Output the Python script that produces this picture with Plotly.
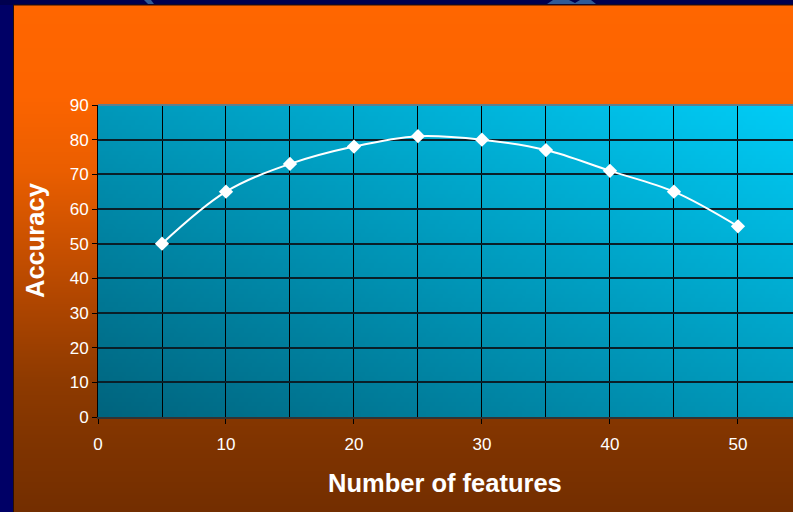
import base64
import struct
import zlib

import plotly.graph_objects as go

# Accuracy measured against the number of selected features
num_features = [5, 10, 15, 20, 25, 30, 35, 40, 45, 50]
accuracy = [50, 65, 73, 78, 81, 80, 77, 71, 65, 55]

x_ticks = [0, 10, 20, 30, 40, 50]
y_ticks = [0, 10, 20, 30, 40, 50, 60, 70, 80, 90]

x_title = "Number of features"
y_title = "Accuracy"

W, H = 793, 512
M_L, M_R, M_T, M_B = 98, 0, 105, 95
PLOT_W = W - M_L - M_R
PLOT_H = H - M_T - M_B
X_MAX = 54.3


def png_uri(width, height, pixel):
    """Encode an RGB image built from pixel(col, row) as a PNG data URI."""
    raw = bytearray()
    for r in range(height):
        raw.append(0)
        for c in range(width):
            raw.extend(pixel(c, r))

    def chunk(tag, data):
        body = tag + data
        return struct.pack(">I", len(data)) + body + struct.pack(">I", zlib.crc32(body) & 0xFFFFFFFF)

    png = b"\x89PNG\r\n\x1a\n"
    png += chunk(b"IHDR", struct.pack(">IIBBBBB", width, height, 8, 2, 0, 0, 0))
    png += chunk(b"IDAT", zlib.compress(bytes(raw), 9))
    png += chunk(b"IEND", b"")
    return "data:image/png;base64," + base64.b64encode(png).decode()


def lerp_stops(stops, t):
    for (t0, c0), (t1, c1) in zip(stops, stops[1:]):
        if t <= t1:
            f = 0 if t1 == t0 else (t - t0) / (t1 - t0)
            return bytes(int(round(a + (b - a) * f)) for a, b in zip(c0, c1))
    return bytes(stops[-1][1])


# orange-to-brown slide background (vertical)
bg_stops = [(0, (255, 102, 0)), (95, (252, 100, 0)), (170, (234, 94, 0)),
            (300, (176, 70, 0)), (380, (142, 58, 0)), (440, (128, 52, 0)),
            (512, (115, 46, 0))]
bg_uri = png_uri(1, H, lambda c, r: lerp_stops(bg_stops, r))

# teal plot-area fill, darker toward bottom-left, bright toward top-right
GW, GH = 160, 72
dark = (0, 100, 126)
bright = (0, 204, 246)


def plot_px(c, r):
    u = c / (GW - 1)
    v = 1 - r / (GH - 1)
    f = (u + v) / 2
    return bytes(int(round(a + (b - a) * f)) for a, b in zip(dark, bright))


plot_uri = png_uri(GW, GH, plot_px)


def px_x(p):
    return (p - M_L) / PLOT_W


def px_y(p):
    return 1 - (p - M_T) / PLOT_H


fig = go.Figure()
fig.add_trace(go.Scatter(
    x=num_features, y=accuracy,
    mode="lines+markers",
    line=dict(color="white", width=2, shape="spline", smoothing=1),
    marker=dict(symbol="diamond", size=11, color="white"),
    hoverinfo="x+y",
    showlegend=False,
))

images = [
    dict(source=bg_uri, xref="paper", yref="paper",
         x=px_x(0), y=px_y(0), sizex=W / PLOT_W, sizey=H / PLOT_H,
         xanchor="left", yanchor="top", sizing="stretch", layer="below"),
    dict(source=plot_uri, xref="x domain", yref="y domain",
         x=0, y=1, sizex=1, sizey=1,
         xanchor="left", yanchor="top", sizing="stretch", layer="below"),
]

navy = "#000066"
shapes = [
    # navy slide frame on the left and top
    dict(type="rect", xref="paper", yref="paper", x0=px_x(0), x1=px_x(13),
         y0=px_y(H), y1=px_y(0), fillcolor=navy, line_width=0, layer="below"),
    dict(type="rect", xref="paper", yref="paper", x0=px_x(0), x1=px_x(W),
         y0=px_y(5), y1=px_y(0), fillcolor="#00004f", line_width=0, layer="below"),
    # thin dark edge of the orange panel
    dict(type="line", xref="paper", yref="paper", x0=px_x(13.5), x1=px_x(13.5),
         y0=px_y(H), y1=px_y(5), line=dict(color="#2a1000", width=1), layer="below"),
    dict(type="line", xref="paper", yref="paper", x0=px_x(13), x1=px_x(W),
         y0=px_y(5), y1=px_y(5), line=dict(color="#2a1000", width=1), layer="below"),
    # bits of the slide logo peeking in at the top
    dict(type="path", xref="paper", yref="paper",
         path=f"M {px_x(144)} {px_y(0)} L {px_x(151)} {px_y(0)} L {px_x(154)} {px_y(4)} L {px_x(148)} {px_y(4)} Z",
         fillcolor="#2f5a96", line_width=0, layer="below"),
    dict(type="path", xref="paper", yref="paper",
         path=f"M {px_x(547)} {px_y(4)} L {px_x(553)} {px_y(0)} L {px_x(569)} {px_y(0)} L {px_x(575)} {px_y(3)} "
              f"L {px_x(580)} {px_y(0)} L {px_x(591)} {px_y(0)} L {px_x(596)} {px_y(4)} Z",
         fillcolor="#2f5a96", line_width=0, layer="below"),
    # grey top edge of the plot area
    dict(type="line", xref="paper", yref="paper", x0=0, x1=1, y0=1, y1=1,
         line=dict(color="#5f7f8c", width=2), layer="above"),
]

font_family = "Liberation Sans, Arial, sans-serif"
tick_font = dict(family=font_family, size=17, color="white")
title_font = dict(family=font_family, size=25.5, color="white")

annotations = [
    dict(text=f"<b>{x_title}</b>", xref="paper", yref="paper",
         x=px_x(445), y=px_y(483), xanchor="center", yanchor="middle",
         showarrow=False, font=title_font),
    dict(text=f"<b>{y_title}</b>", xref="paper", yref="paper",
         x=px_x(35), y=px_y(240), xanchor="center", yanchor="middle",
         textangle=-90, showarrow=False, font=title_font),
]

fig.update_layout(
    width=W, height=H,
    margin=dict(l=M_L, r=M_R, t=M_T, b=M_B, pad=0),
    paper_bgcolor="#e06000",
    plot_bgcolor="rgba(0,0,0,0)",
    images=images,
    shapes=shapes,
    annotations=annotations,
    xaxis=dict(
        range=[0, X_MAX], tickvals=x_ticks, ticktext=[str(v) for v in x_ticks],
        showgrid=True, gridcolor="black", gridwidth=1,
        minor=dict(dtick=5, tick0=0, showgrid=True, gridcolor="black", gridwidth=1, ticks=""),
        ticks="outside", ticklen=5, tickcolor="black", tickwidth=1,
        ticklabelstandoff=6,
        showline=True, linecolor="#333333", linewidth=2,
        zeroline=False, tickfont=tick_font,
        fixedrange=True,
    ),
    yaxis=dict(
        range=[0, 90], tickvals=y_ticks, ticktext=[str(v) for v in y_ticks],
        showgrid=True, gridcolor="#0a1f28", gridwidth=1.5,
        ticks="outside", ticklen=5, tickcolor="black", tickwidth=1,
        showline=True, linecolor="black", linewidth=1,
        zeroline=False, tickfont=tick_font,
        fixedrange=True,
    ),
)

fig.write_html("out.html", config={"displayModeBar": False})
